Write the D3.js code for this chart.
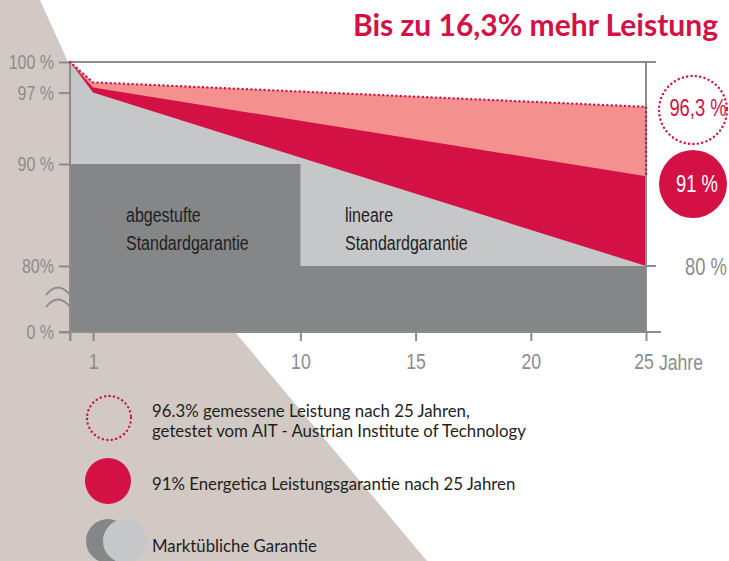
<!DOCTYPE html>
<html>
<head>
<meta charset="utf-8">
<style>
  body { margin: 0; background: #fff; }
  svg { display: block; }
  .cond { font-family: "Liberation Sans", Arimo, "DejaVu Sans", sans-serif; }
  .lato { font-family: Lato, "Open Sans", sans-serif; }
</style>
</head>
<body>
<svg width="729" height="561"></svg>
<script src="https://d3js.org/d3.v7.min.js"></script>
<script>
// values (percent of nominal power per year)
const years = [0, 1, 25];
const measured = [100, 98, 95.6];      // AIT measured, drawn line
const energetica = [100, 97.5, 88.8];  // Energetica guarantee, drawn line
const linear = [100, 97, 80];          // linear standard guarantee
const stepYears = [0, 10, 25];
const stepped = [90, 80, 80];          // stepped standard guarantee

const xTicks = [0, 1, 10, 15, 20, 25];
const yTicks = [0, 80, 90, 97, 100];

const crimson = "#d31145", pink = "#f4918f", lightGray = "#c6c7c9",
      darkGray = "#858688", axisGray = "#8b8c8e", beige = "#d2c9c4";
const narrow = 0.8; // horizontal squeeze to mimic the condensed face

const svg = d3.select("svg");

// beige backdrop shape
svg.append("path")
  .attr("d", "M0,0 L40,0 L68,62 L235,332 L427,561 L0,561 Z")
  .attr("fill", beige);

const x = d3.scaleLinear().domain([0, 25]).range([70, 646]);
// broken axis: 0..80 squeezed at the bottom
const y = d3.scaleLinear().domain([0, 80, 100]).range([332, 266, 62]);

// plot background
svg.append("rect")
  .attr("x", x(0)).attr("y", y(100))
  .attr("width", x(25) - x(0)).attr("height", y(0) - y(100))
  .attr("fill", "#fff");

function areaOf(xs, vs, curve) {
  return d3.area()
    .x((d, i) => x(xs[i]))
    .y0(y(0))
    .y1(d => y(d))
    .curve(curve || d3.curveLinear)(vs);
}

svg.append("path").attr("d", areaOf(years, measured)).attr("fill", pink);
svg.append("path").attr("d", areaOf(years, energetica)).attr("fill", crimson);
svg.append("path").attr("d", areaOf(years, linear)).attr("fill", lightGray);
svg.append("path").attr("d", areaOf(stepYears, stepped, d3.curveStepAfter)).attr("fill", darkGray);

// narrow text: placed by a translated group, squeezed around its anchor
function condText(px, py, str, size, fill, anchor) {
  return svg.append("g")
    .attr("transform", `translate(${px},${py}) scale(${narrow},1)`)
    .append("text")
    .attr("class", "cond")
    .attr("font-size", size)
    .attr("fill", fill)
    .attr("text-anchor", anchor || "start")
    .text(str);
}

// axes
const xAxis = d3.axisBottom(x)
  .tickValues(xTicks)
  .tickSize(9)
  .tickPadding(12)
  .tickFormat(d => d === 0 ? "" : d);
const gx = svg.append("g").attr("transform", `translate(0,${y(0)})`).call(xAxis);
gx.select(".domain").remove();
gx.selectAll("line").attr("stroke", axisGray).attr("stroke-width", 2);
gx.selectAll("text").attr("class", "cond").attr("fill", axisGray)
  .attr("font-size", 22).attr("dy", "0.71em")
  .attr("transform", `scale(${narrow},1)`);
gx.selectAll(".tick text").filter(d => d === 25).attr("x", -3);

const yAxis = d3.axisLeft(y)
  .tickValues(yTicks)
  .tickSize(11)
  .tickPadding(5)
  .tickFormat(d => d === 80 ? "80%" : d + " %");
const gy = svg.append("g").attr("transform", `translate(${x(0)},0)`).call(yAxis);
gy.select(".domain").remove();
gy.selectAll("line").attr("stroke", axisGray).attr("stroke-width", 2);
gy.selectAll(".tick text").each(function () {
  // keep the right edge where d3 put it, squeeze leftwards
  const t = d3.select(this);
  const tx = +t.attr("x");
  t.attr("x", tx / narrow).attr("transform", `scale(${narrow},1)`);
});
gy.selectAll("text").attr("class", "cond").attr("fill", axisGray).attr("font-size", 20);

const lineG = svg.append("g").attr("stroke", axisGray).attr("stroke-width", 2).attr("fill", "none");
lineG.append("line").attr("x1", x(0)).attr("x2", x(0)).attr("y1", y(100)).attr("y2", y(0) + 9);
lineG.append("line").attr("x1", x(0) - 11).attr("x2", x(25) + 15).attr("y1", y(0)).attr("y2", y(0));
lineG.append("line").attr("x1", x(0)).attr("x2", x(25) + 10).attr("y1", y(100)).attr("y2", y(100));
lineG.append("line").attr("x1", x(25)).attr("x2", x(25)).attr("y1", y(100)).attr("y2", y(0));
lineG.append("line").attr("x1", x(25)).attr("x2", x(25) + 10).attr("y1", y(80)).attr("y2", y(80));

// axis break marks
lineG.append("path").attr("d", "M46,295 Q58,280 70,295").attr("stroke-width", 1.8);
lineG.append("path").attr("d", "M46,307 Q58,292 70,307").attr("stroke-width", 1.8);

condText(659, 370, "Jahre", 22, axisGray);

// dotted outline of the measured result
const last = years.length - 1;
const dotPts = years.map((yr, i) => [x(yr), y(measured[i])]);
dotPts.push([x(25), y(energetica[last])]);
svg.append("path")
  .attr("d", d3.line()(dotPts))
  .attr("fill", "none").attr("stroke", crimson)
  .attr("stroke-width", 2.4).attr("stroke-linecap", "round")
  .attr("stroke-dasharray", "0.1 4.3");

// in-chart labels
[["abgestufte", "Standardgarantie", 126], ["lineare", "Standardgarantie", 345]].forEach(([a, b, lx]) => {
  condText(lx, 222, a, 20, "#1e1e1e");
  condText(lx, 250, b, 20, "#1e1e1e");
});

// right-side labels
svg.append("circle").attr("cx", 693).attr("cy", 110).attr("r", 34)
  .attr("fill", "none").attr("stroke", crimson).attr("stroke-width", 2.4)
  .attr("stroke-linecap", "round").attr("stroke-dasharray", "0.1 4.3");
condText(698, 116, "96,3 %", 23, crimson, "middle");
svg.append("circle").attr("cx", 693).attr("cy", 184).attr("r", 34).attr("fill", crimson);
condText(697, 192, "91 %", 23, "#fff", "middle");
condText(706, 275, "80 %", 23, axisGray, "middle");

// title
svg.append("text").attr("class", "lato").attr("x", 718).attr("y", 36)
  .attr("text-anchor", "end").attr("font-size", 30).attr("font-weight", 700)
  .attr("fill", crimson).text("Bis zu 16,3% mehr Leistung");

// legend
const legend = svg.append("g").attr("class", "lato").attr("font-size", 16.8).attr("fill", "#1e1e1e");
legend.append("circle").attr("cx", 109).attr("cy", 418).attr("r", 22)
  .attr("fill", "none").attr("stroke", crimson).attr("stroke-width", 2.4)
  .attr("stroke-linecap", "round").attr("stroke-dasharray", "0.1 4.4");
legend.append("text").attr("x", 152).attr("y", 417).text("96.3% gemessene Leistung nach 25 Jahren,");
legend.append("text").attr("x", 152).attr("y", 437).text("getestet vom AIT - Austrian Institute of Technology");
legend.append("circle").attr("cx", 108).attr("cy", 481).attr("r", 23).attr("fill", crimson);
legend.append("text").attr("x", 152).attr("y", 490).text("91% Energetica Leistungsgarantie nach 25 Jahren");
legend.append("circle").attr("cx", 108).attr("cy", 541).attr("r", 22).attr("fill", darkGray);
legend.append("circle").attr("cx", 125).attr("cy", 541).attr("r", 22).attr("fill", lightGray);
legend.append("text").attr("x", 152).attr("y", 552).text("Marktübliche Garantie");
</script>
</body>
</html>
